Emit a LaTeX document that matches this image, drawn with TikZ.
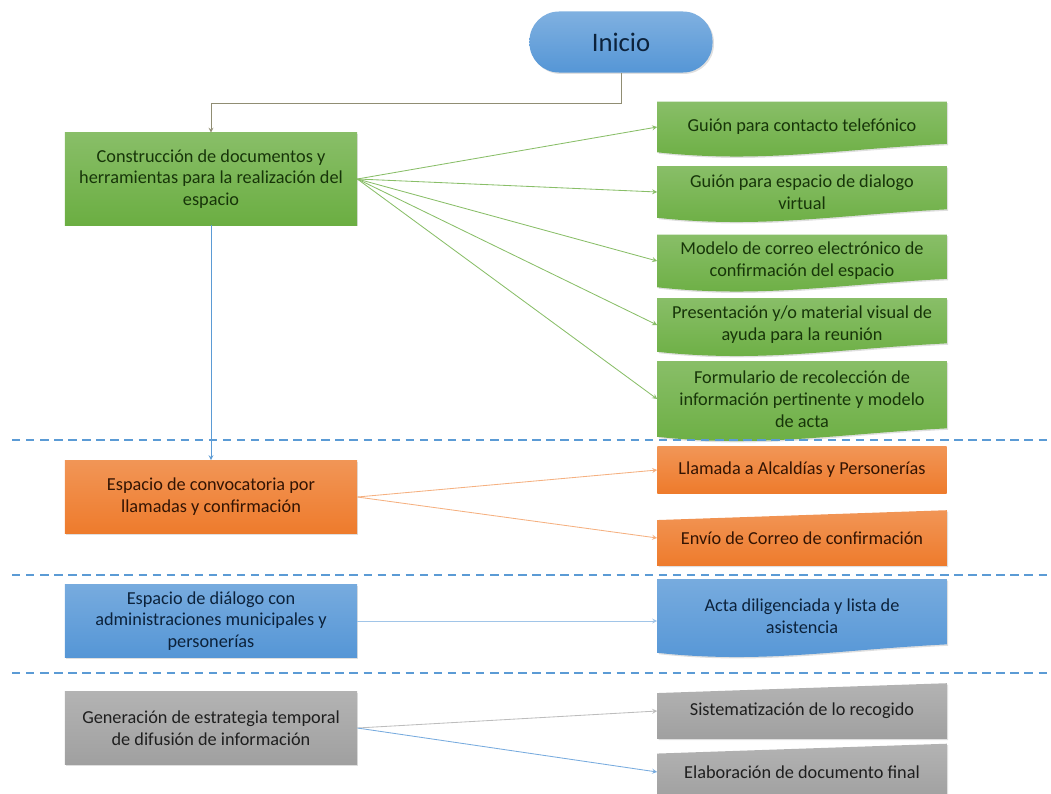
\documentclass[tikz,border=0pt]{standalone}
\usepackage{fontspec}
\setmainfont{Carlito}
\usetikzlibrary{positioning,backgrounds,shadows,arrows}

\definecolor{verde}{HTML}{6BAE42}
\definecolor{verdetxt}{HTML}{173509}
\definecolor{naranja}{HTML}{EE7B2C}
\definecolor{naranjatxt}{HTML}{331403}
\definecolor{azul}{HTML}{5596D6}
\definecolor{azultxt}{HTML}{0C223B}
\definecolor{gris}{HTML}{A0A0A0}
\definecolor{gristxt}{HTML}{1F1F1F}
\definecolor{guia}{HTML}{5B9BD5}

% document shape: wavy bottom edge
\newcommand{\docfill}[2]{%
	\begin{pgfonlayer}{background}
		\shade[top color=#2!80!white, bottom color=#2, drop shadow={shadow xshift=1pt, shadow yshift=-1pt, opacity=0.25}]
		(#1.north west) -- (#1.north east) -- ([yshift=6pt]#1.south east)
		.. controls ([xshift=-2.8cm,yshift=2pt]#1.south east) and ([xshift=2.6cm,yshift=-8pt]#1.south west) ..
		(#1.south west) -- cycle;
	\end{pgfonlayer}}
% manual input shape: left corner lower
\newcommand{\slantfill}[2]{%
	\begin{pgfonlayer}{background}
		\shade[top color=#2!80!white, bottom color=#2, drop shadow={shadow xshift=1pt, shadow yshift=-1pt, opacity=0.25}]
		([yshift=-7pt]#1.north west) -- (#1.north east) -- (#1.south east) -- (#1.south west) -- cycle;
	\end{pgfonlayer}}

\tikzset{
	basic/.style  = {rectangle, align=center, inner sep=2pt, font=\fontsize{13}{15.5}\selectfont},
	start/.style  = {basic, rounded corners=21pt, minimum width=4.575cm, minimum height=1.525cm,
		top color=azul!75!white, bottom color=azul, text=azultxt, font=\fontsize{19}{22}\selectfont,
		drop shadow={shadow xshift=1pt, shadow yshift=-1pt, opacity=0.25}},
	stage/.style  = {basic, minimum width=7.3cm, minimum height=1.825cm,
		drop shadow={shadow xshift=1pt, shadow yshift=-1pt, opacity=0.25}},
	output/.style = {basic, minimum width=7.225cm},
	green/.style  = {top color=verde!80!white, bottom color=verde, text=verdetxt},
	orange/.style = {top color=naranja!80!white, bottom color=naranja, text=naranjatxt},
	blue/.style   = {top color=azul!80!white, bottom color=azul, text=azultxt},
	grey/.style   = {top color=gris!80!white, bottom color=gris, text=gristxt},
	link/.style   = {->, line width=0.6pt},
	split/.style  = {guia, line width=1.3pt, dash pattern=on 6pt off 4pt}
}

\begin{document}
\begin{tikzpicture}[x=0.025cm, y=-0.025cm, >=stealth]
\useasboundingbox (0,0) rectangle (1051,794);

% start
\node[start] (ini) at (621,42) {Inicio};

% left column
\node[stage, green, minimum height=2.3cm] (cons) at (211,179)
	{Construcción de documentos y\\ herramientas para la realización del\\ espacio};
\node[stage, orange] (conv) at (211,497) {Espacio de convocatoria por\\ llamadas y confirmación};
\node[stage, blue] (dial) at (211,621) {Espacio de diálogo con\\ administraciones municipales y\\ personerías};
\node[stage, grey] (gen) at (211,728) {Generación de estrategia temporal\\ de difusión de información};

% right column, documents
\node[output, text=verdetxt, minimum height=1.25cm] (g1) at (802,127) {Guión para contacto telefónico};
\node[output, text=verdetxt, minimum height=1.275cm] (g2) at (802,192) {Guión para espacio de dialogo\\ virtual};
\node[output, text=verdetxt, minimum height=1.3cm] (g3) at (802,261) {Modelo de correo electrónico de\\ confirmación del espacio};
\node[output, text=verdetxt, minimum height=1.325cm] (g4) at (802,325) {Presentación y/o material visual de\\ ayuda para la reunión};
\node[output, text=verdetxt, minimum height=1.875cm] (g5) at (802,399)
	{Formulario de recolección de\\ información pertinente y modelo\\ de acta};
\foreach \n in {g1,g2,g3,g4,g5} {\docfill{\n}{verde}}

\node[output, orange, minimum height=1.15cm] (llam) at (802,470) {Llamada a Alcaldías y Personerías};
\node[output, text=naranjatxt, minimum height=1.375cm] (env) at (802,538) {Envío de Correo de confirmación};
\slantfill{env}{naranja}

\node[output, text=azultxt, minimum height=1.825cm] (acta) at (802,616) {Acta diligenciada y lista de\\ asistencia};
\docfill{acta}{azul}

\node[output, text=gristxt, minimum height=1.375cm] (sis) at (802,711) {Sistematización de lo recogido};
\node[output, text=gristxt, minimum height=1.4cm] (elab) at (802,772) {Elaboración de documento final};
\slantfill{sis}{gris}
\slantfill{elab}{gris}

% section separators
\coordinate (s1l) at (12,440);   \coordinate (s1r) at (1051,440);
\coordinate (s2l) at (12,575);   \coordinate (s2r) at (1051,575);
\coordinate (s3l) at (12,673);   \coordinate (s3r) at (1051,673);
\draw[split] (s1l) -- (s1r);
\draw[split] (s2l) -- (s2r);
\draw[split] (s3l) -- (s3r);

% connectors
\draw[link, color=gray!80!olive] (ini.south) -- ++(0,31) -| (cons.north);
\draw[link, color=guia] (cons.south) -- (conv.north);
\foreach \n in {g1,g2,g3,g4,g5}
	\draw[link, color=verde!80!white] (cons.east) -- (\n.west);
\draw[link, color=naranja!60!white] (conv.east) -- (llam.west);
\draw[link, color=naranja!60!white] (conv.east) -- (env.west);
\draw[link, color=azul!55!white] (dial.east) -- (dial.east -| acta.west);
\draw[link, color=gris!70!white] (gen.east) -- (sis.west);
\draw[link, color=azul!80!white] (gen.east) -- (elab.west);

\end{tikzpicture}
\end{document}
